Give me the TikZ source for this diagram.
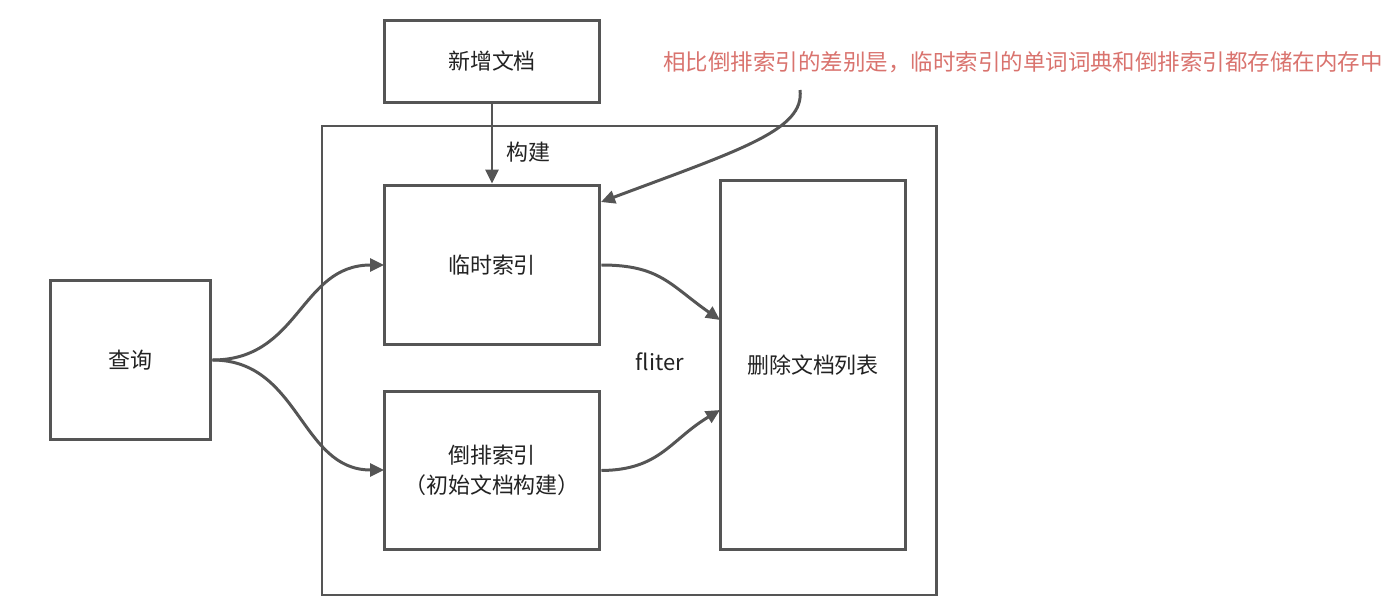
\documentclass[tikz,border=0pt]{standalone}
\usepackage{fontspec}
\setmainfont{Noto Sans CJK SC}
\usetikzlibrary{arrows.meta}
\definecolor{ink}{HTML}{555555}
\definecolor{note}{HTML}{D9736E}
\definecolor{txt}{HTML}{222222}
\tikzset{flow/.style={-{Triangle[length=2.8mm,width=2.6mm]},line width=1.7pt,ink},
box/.style={draw=ink,line width=1.7pt,fill=white,align=center,font=\fontsize{12.5}{17}\selectfont,text=txt,inner sep=0pt},
lab/.style={font=\fontsize{12.5}{15}\selectfont,text=txt}}

\begin{document}
\begin{tikzpicture}[x=0.02cm,y=-0.02cm]
\useasboundingbox (0,0) rectangle (1400,605);
% outer frame
\draw[ink,line width=1.7pt] (322,126) rectangle (936,595);
\node[box,minimum width=4.32cm,minimum height=1.66cm] (add) at (492,61.5) {新增文档};
\node[box,minimum width=4.32cm,minimum height=3.2cm] (tmp) at (492,265) {临时索引};
\node[box,minimum width=4.32cm,minimum height=3.18cm] (inv) at (492,470.5) {倒排索引\\（初始文档构建）};
\node[box,minimum width=3.72cm,minimum height=7.4cm] (del) at (813,365) {删除文档列表};
\node[box,minimum width=3.22cm,minimum height=3.2cm] (qry) at (130.5,360) {查询};
\coordinate (tmpin) at (384,265);
\coordinate (invin) at (384,470);
\coordinate (delup) at (720,320);
\coordinate (deldn) at (720,410);
\coordinate (src) at (800,90);
\coordinate (tip) at (601,202);
\draw[flow] (add) -- (tmp);
\node[lab] (build) at (528,152) {构建};
\draw[flow] (qry.east) .. controls (300,360) and (300,265) .. (tmpin);
\draw[flow] (qry.east) .. controls (300,360) and (300,470) .. (invin);
\draw[flow] (tmp.east) .. controls (660,265) and (670,285) .. (delup);
\draw[flow] (inv.east) .. controls (660,470) and (670,440) .. (deldn);
\node[lab] (filt) at (660,362) {fliter};
\node[font=\fontsize{12.8}{15}\selectfont,text=note,anchor=west] (memo) at (657,62) {相比倒排索引的差别是，临时索引的单词词典和倒排索引都存储在内存中};
\draw[flow] (src) .. controls (805,130) and (740,150) .. (tip);
\end{tikzpicture}
\end{document}
